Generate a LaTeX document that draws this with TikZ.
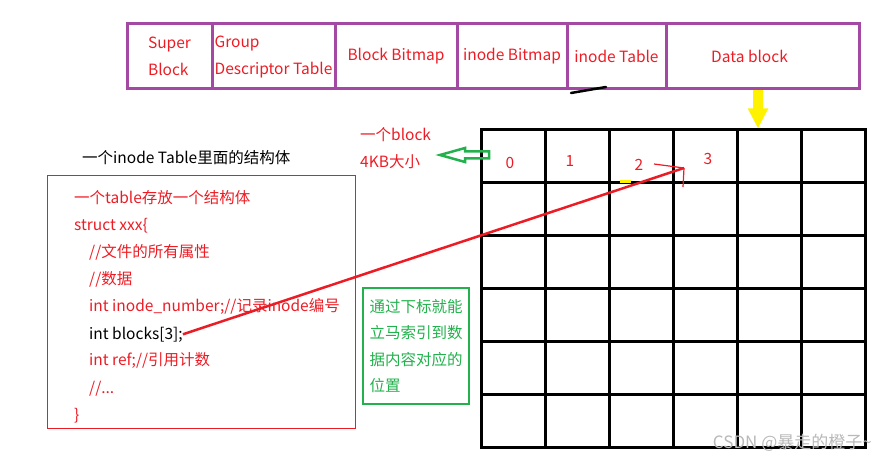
\documentclass[tikz,border=0pt]{standalone}
\usepackage{fontspec}
\setmainfont{Noto Sans CJK SC}
\usetikzlibrary{positioning,arrows.meta}
\definecolor{pred}{HTML}{ED1C24}
\definecolor{ppurple}{HTML}{A349A4}
\definecolor{pgreen}{HTML}{22B14C}
\definecolor{pyellow}{HTML}{FFF200}

\begin{document}
\begin{tikzpicture}[
  x=1pt, y=-1pt,
  font=\fontsize{15.5}{27}\selectfont,
  part/.style={draw=ppurple, line width=3pt, text=pred, minimum height=65pt,
               inner sep=0pt, align=center},
  code/.style={anchor=base west, text=pred, inner sep=0pt},
  idx/.style={text=pred, inner sep=0pt},
  gline/.style={line width=3pt},
  yarr/.style={pyellow, line width=10pt, -{Triangle[length=20pt, width=19pt]}},
]
\useasboundingbox (0,0) rectangle (887,465);

% layout of one block group
\node[part, minimum width=85pt, align=left] (sb) at (169.5,56.5) {Super\\Block\hspace{3pt}};
\node[part, minimum width=123pt, align=left] (gdt) at (273.5,56.5) {Group\\Descriptor Table};
\node[part, minimum width=122pt] (bbm) at (396,56.5) {Block Bitmap};
\node[part, minimum width=110pt] (ibm) at (512,56.5) {inode Bitmap};
\node[part, minimum width=99pt] (itb) at (616.5,56.5) {inode Table};
\node[part, minimum width=193pt] (dblk) at (762.5,56.5) {Data block\hspace{26pt}};
\draw[line width=2.5pt, line cap=round] (571,93) -- (606,87);

% data blocks
\node[draw, gline, minimum width=384pt, minimum height=317pt, inner sep=0pt] (grid) at (673,288.5) {};
\foreach \i in {1,...,5} {
  \draw[gline] ({481+\i*64},130) -- ({481+\i*64},447);
  \draw[gline] (481,{130+\i*52.83}) -- (865,{130+\i*52.83});
}
\node[idx] (c0) at (510,163) {0};
\node[idx] (c1) at (570,161) {1};
\node[idx] (c2) at (639,165) {2};
\node[idx] (c3) at (708,159) {3};
\fill[pyellow] (620,180) rectangle (631,183);
\draw[yarr] ([xshift=-4.5pt]dblk.south) -- ([xshift=-4.5pt]dblk.south |- grid.north);

% block size
\node[anchor=west, text=pred, align=left, inner sep=0pt] (bsize) at (360,148.5) {一个block\\4KB大小};
\coordinate (gtail) at (489,155);
\draw[pgreen, line width=2.5pt, line join=miter] (gtail) ++(0,-3.5) -- ++(-24,0) -- ++(0,-3.5)
  -- ++(-25,7) -- ++(25,7) -- ++(0,-3.5) -- ++(24,0) -- cycle;

% the struct in the inode table
\node[anchor=west, inner sep=0pt] (title) at (82,158) {一个inode Table里面的结构体};
\node[draw=pred, line width=0.8pt, minimum width=308pt, minimum height=253pt, inner sep=0pt] (sbox) at (201,301.5) {};
\node[code] (l1) at (74,204) {一个table存放一个结构体};
\node[code] (l2) at (74,231) {struct xxx\{};
\node[code] (l3) at (89,258) {//文件的所有属性};
\node[code] (l4) at (89,285) {//数据};
\node[code] (l5) at (89,312) {int inode\_number;//记录inode编号};
\node[code, text=black] (l6) at (89,339) {int blocks[3];};
\node[code] (l7) at (89,366) {int ref;//引用计数};
\node[code] (l8) at (89,393) {//...};
\node[code] (l9) at (74,420) {\}};

% blocks[3] points into the data blocks
\coordinate (tip) at (684,168);
\draw[pred, line width=2.5pt] (l6.east) -- (tip);
\draw[pred, line width=1.2pt] (tip) -- ++(-30,-4);
\draw[pred, line width=1.2pt] (tip) -- ++(-1,19);

\node[draw=pgreen, line width=2.5pt, text=pgreen, align=left, minimum width=106pt,
      minimum height=116pt, inner sep=0pt, font=\fontsize{15.5}{26.5}\selectfont] (hint) at (416,346)
  {通过下标就能\\立马索引到数\\据内容对应的\\位置\hspace{62pt}};

\node[text=gray!55, anchor=east, inner sep=0pt, font=\fontsize{17}{20}\selectfont] (wm) at (872,443) {CSDN @暴走的橙子\textasciitilde};
\end{tikzpicture}
\end{document}
